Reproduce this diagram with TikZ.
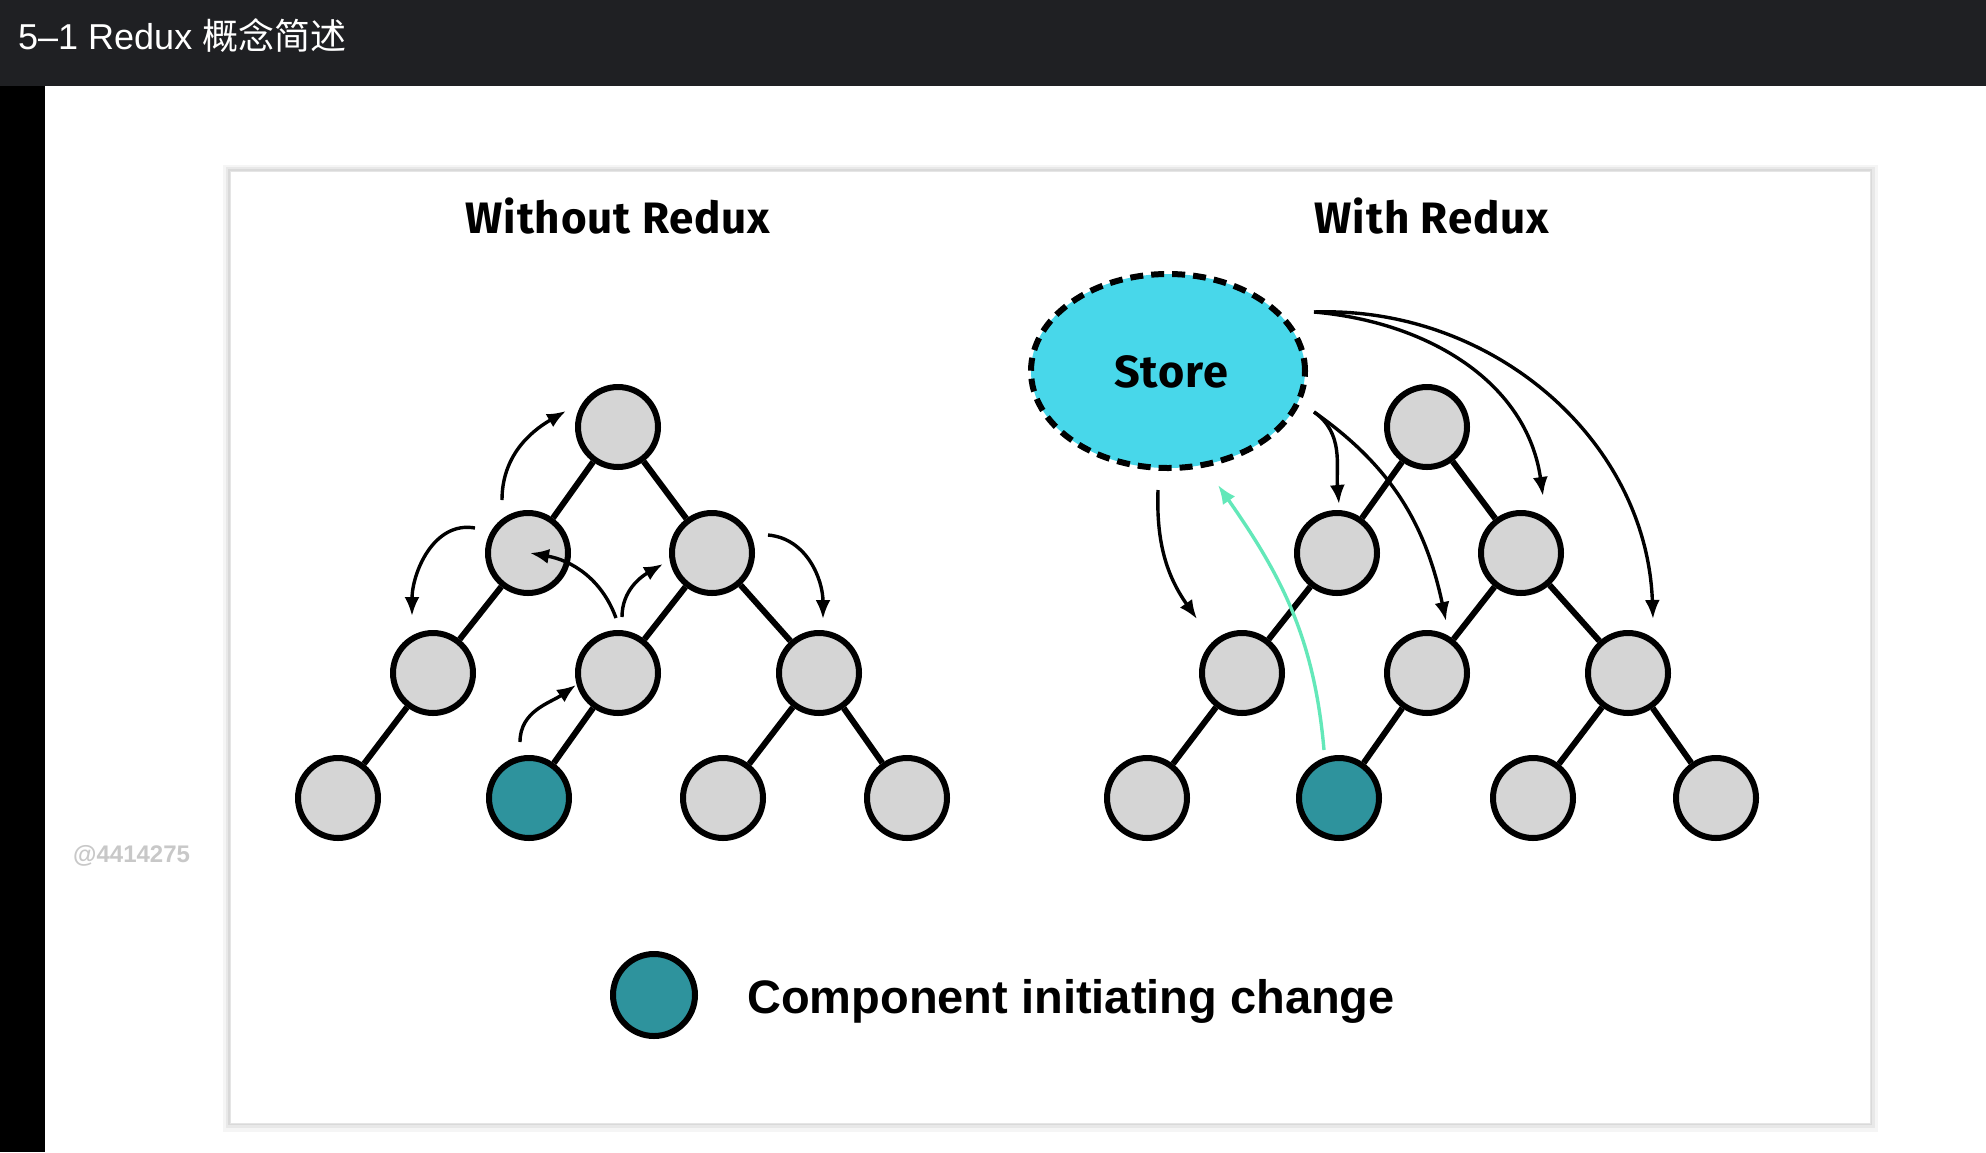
\documentclass[tikz,border=0pt]{standalone}
\usepackage{fontspec}
\setmainfont{Liberation Sans}
\newfontfamily\cjkfont{Noto Sans CJK SC}
\newfontfamily\firafont[LetterSpace=2]{Fira Sans}
\usetikzlibrary{arrows.meta,shapes.geometric}
\definecolor{barbg}{HTML}{1F2023}
\definecolor{nodegray}{HTML}{D5D5D5}
\definecolor{tealc}{HTML}{2E939D}
\definecolor{storecyan}{HTML}{48D7EA}
\definecolor{mint}{HTML}{63E8B9}
\definecolor{wmgray}{HTML}{C8C8C8}
\tikzset{
  tnode/.style={circle, draw=black, line width=6pt, fill=nodegray, minimum size=80pt, inner sep=0pt},
  tnodeT/.style={tnode, fill=tealc},
  tedge/.style={line width=6pt, draw=black},
  flow/.style={line width=3.4pt, draw=black, -{Latex[length=19pt,width=15pt]}},
  gflow/.style={flow, draw=mint},
  ttl/.style={font=\firafont\bfseries\fontsize{44}{48}\selectfont, text=black, inner sep=0pt, anchor=base},
}
\begin{document}
\begin{tikzpicture}[x=1pt,y=1pt]
\useasboundingbox (0,0) rectangle (1986,-1152);
% background
\fill[white] (0,0) rectangle (1986,-1152);
\fill[barbg] (0,0) rectangle (1986,-86);
\fill[black] (0,-86) rectangle (45,-1152);
\node[anchor=base west, inner sep=0pt, text=white, font=\fontsize{36}{40}\selectfont] (bartitle) at (18,-49) {5–1 Redux {\cjkfont 概念简述}};
% panel with shadow
\fill[black!4] (223,-165) rectangle (1878,-1132);
\fill[black!9] (226,-167) rectangle (1875,-1128);
\fill[black!15] (228,-169) rectangle (1872,-1125);
\filldraw[fill=white, draw=black!10, line width=0.6pt] (230,-171) rectangle (1870,-1123);
% watermark
\node[anchor=base west, inner sep=0pt, text=wmgray, font=\bfseries\fontsize{24}{26}\selectfont] (wm) at (73,-862) {@4414275};
% titles
\node[ttl] (t1) at (618,-233) {Without Redux};
\node[ttl] (t2) at (1432,-233) {With Redux};
% left tree
\node[tnode] (L0) at (618,-427) {};
\node[tnode] (L1a) at (528,-553) {};
\node[tnode] (L1b) at (712,-553) {};
\node[tnode] (L2a) at (433,-673) {};
\node[tnode] (L2b) at (618,-673) {};
\node[tnode] (L2c) at (819,-673) {};
\node[tnode] (L3a) at (338,-798) {};
\node[tnodeT] (L3b) at (529,-798) {};
\node[tnode] (L3c) at (723,-798) {};
\node[tnode] (L3d) at (907,-798) {};
\draw[tedge] (L0) -- (L1a);
\draw[tedge] (L0) -- (L1b);
\draw[tedge] (L1a) -- (L2a);
\draw[tedge] (L1b) -- (L2b);
\draw[tedge] (L1b) -- (L2c);
\draw[tedge] (L2a) -- (L3a);
\draw[tedge] (L2b) -- (L3b);
\draw[tedge] (L2c) -- (L3c);
\draw[tedge] (L2c) -- (L3d);
% right tree
\node[tnode] (R0) at (1427,-427) {};
\node[tnode] (R1a) at (1337,-553) {};
\node[tnode] (R1b) at (1521,-553) {};
\node[tnode] (R2a) at (1242,-673) {};
\node[tnode] (R2b) at (1427,-673) {};
\node[tnode] (R2c) at (1628,-673) {};
\node[tnode] (R3a) at (1147,-798) {};
\node[tnodeT] (R3b) at (1339,-798) {};
\node[tnode] (R3c) at (1533,-798) {};
\node[tnode] (R3d) at (1716,-798) {};
\draw[tedge] (R0) -- (R1a);
\draw[tedge] (R0) -- (R1b);
\draw[tedge] (R1a) -- (R2a);
\draw[tedge] (R1b) -- (R2b);
\draw[tedge] (R1b) -- (R2c);
\draw[tedge] (R2a) -- (R3a);
\draw[tedge] (R2b) -- (R3b);
\draw[tedge] (R2c) -- (R3c);
\draw[tedge] (R2c) -- (R3d);
% store
\node[ellipse, draw=black, line width=6pt, dash pattern=on 13pt off 8pt, fill=storecyan, minimum width=274pt, minimum height=194pt, inner sep=0pt] (store) at (1168,-371) {};
\node[font=\firafont\bfseries\fontsize{45}{48}\selectfont, inner sep=0pt, anchor=base] (storetxt) at (1171,-387) {Store};
% left arrows
\coordinate (a1s) at (502,-500); \coordinate (a1e) at (566,-411);
\coordinate (a2s) at (475,-528); \coordinate (a2e) at (412,-616);
\coordinate (a3s) at (616,-618); \coordinate (a3e) at (530,-553);
\coordinate (a4s) at (622,-617); \coordinate (a4e) at (663,-564);
\coordinate (a5s) at (520,-742); \coordinate (a5e) at (576,-685);
\coordinate (a6s) at (768,-535); \coordinate (a6e) at (823,-619);
\draw[flow] (a1s) to[out=90, in=210] (a1e);
\draw[flow] (a2s) to[out=170, in=90] (a2e);
\draw[flow] (a3s) to[out=110, in=-10] (a3e);
\draw[flow] (a4s) to[out=90, in=210] (a4e);
\draw[flow] (a5s) to[out=90, in=215] (a5e);
\draw[flow] (a6s) to[out=-5, in=90] (a6e);
% right arrows
\coordinate (b0s) at (1314,-312);
\coordinate (b1e) at (1543,-496);
\coordinate (b2e) at (1653,-619);
\coordinate (b3s) at (1314,-412);
\coordinate (b3e) at (1339,-504);
\coordinate (b4e) at (1446,-621);
\coordinate (b5s) at (1158,-490); \coordinate (b5e) at (1197,-619);
\coordinate (gs) at (1324,-750); \coordinate (ge) at (1218,-485);
\draw[flow] (b0s) to[out=-5, in=98] (b1e);
\draw[flow] (b0s) to[out=2, in=92] (b2e);
\draw[flow] (b3s) to[out=-35, in=95] (b3e);
\draw[flow] (b3s) to[out=-35, in=102] (b4e);
\draw[flow] (b5s) to[out=-92, in=125] (b5e);
\draw[gflow] (gs) to[out=95, in=-55] (ge);
% legend
\node[tnodeT, minimum size=82pt] (leg) at (654,-995) {};
\node[anchor=base west, inner sep=0pt, font=\bfseries\fontsize{47}{50}\selectfont] (legtxt) at (747,-1013) {Component initiating change};
\end{tikzpicture}
\end{document}
